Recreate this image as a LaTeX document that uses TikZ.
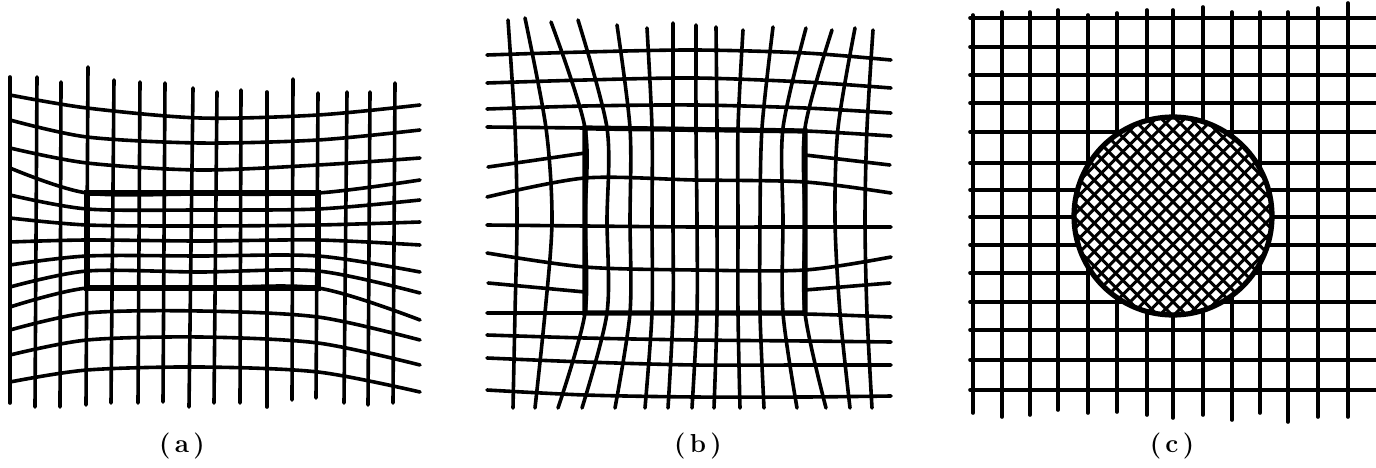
\documentclass[tikz,border=0pt]{standalone}
\usepackage{tikz}

\begin{document}
\begin{tikzpicture}[
    x=1pt, y=-1pt,
    gridline/.style={line width=3.6pt, line cap=round, line join=round},
    rectedge/.style={line width=5.2pt, line join=miter},
    hatchline/.style={line width=3pt},
    sublabel/.style={font=\fontsize{26}{28}\selectfont\bfseries}
  ]
  \useasboundingbox (0,0) rectangle (1376,468);

  % (a) region squeezed in y
  \foreach \xt/\yt/\xb/\yb in {10/77/10/403, 37/77/35/407, 61/82/60/407,
      88/67/86/405, 114/80/111/403, 140/82/138/403, 165/83/163/402,
      193/88/189/407, 217/92/214/403, 241/90/240/403, 267/92/267/407,
      293/79/292/400, 318/93/316/398, 347/92/344/403, 370/92/368/405,
      395/83/393/403}
    \draw[gridline] (\xt,\yt) -- (\xb,\yb);
  \foreach \a/\b/\c/\d/\e in {95/108/118/115/105, 120/137/143/140/130,
      148/163/170/165/158, 168/193/194/193/180, 195/209/210/209/200,
      218/225/226/225/222, 242/240/241/240/245, 265/256/256/256/272,
      287/271/272/271/293, 307/288/288/288/320, 330/313/311/317/340,
      355/340/337/343/365, 382/370/367/372/392}
    \draw[gridline] plot[smooth, tension=0.5]
      coordinates {(10,\a) (87,\b) (200,\c) (318,\d) (420,\e)};
  \draw[rectedge] (87,193) rectangle (318,288);

  % (b) region squeezed in x
  \foreach \xa/\ya/\xb/\xc/\xd/\xe in {508/20/515/517/515/513,
      525/18/546/552/545/535, 551/22/585/585/585/558,
      578/20/607/607/607/582, 617/25/630/630/630/615,
      647/28/652/652/652/645, 673/23/673/673/673/668,
      696/25/696/697/697/692, 716/27/717/717/717/714,
      743/30/738/738/738/740, 773/27/762/760/760/764,
      806/28/783/783/783/797, 832/30/805/805/805/826,
      855/28/838/835/840/850, 873/30/867/865/867/872}
    \draw[gridline] plot[smooth, tension=0.5]
      coordinates {(\xa,\ya) (\xb,128) (\xc,220) (\xd,313) (\xe,408)};
  \foreach \a/\b/\c/\d/\e in {55/52/50/53/60, 83/80/78/82/88,
      109/106/105/108/113, 127/128/129/131/136, 197/178/180/182/193,
      225/226/227/227/227, 253/267/270/270/257, 313/313/313/314/317,
      335/338/340/341/342, 358/362/365/365/365, 390/395/397/397/396}
    \draw[gridline] plot[smooth, tension=0.5]
      coordinates {(487,\a) (585,\b) (695,\c) (805,\d) (891,\e)};
  \draw[gridline] (488,167) -- (585,153);
  \draw[gridline] (805,155) -- (890,165);
  \draw[gridline] (488,283) -- (585,292);
  \draw[gridline] (805,290) -- (890,283);
  \draw[rectedge] (585,128) -- (805,131) -- (805,313) -- (585,313) -- cycle;

  % (c) hatched inclusion
  \foreach \x/\yt/\yb in {973/15/413, 1002/12/417, 1030/12/415,
      1058/10/410, 1088/15/413, 1117/13/412, 1147/10/415, 1173/10/418,
      1203/7/415, 1232/12/420, 1260/12/413, 1288/12/422, 1318/8/417,
      1348/3/417}
    \draw[gridline] (\x,\yt) -- (\x,\yb);
  \foreach \y in {18,47,75,103,132,163,190,217,245,273,302,330,360,390}
    \draw[gridline] (970,\y) -- (1376,\y);
  \fill[white] (1173,216) circle[radius=99pt];
  \begin{scope}
    \clip (1173,216) circle[radius=99pt];
    \foreach \k in {-10,...,10} {
      \draw[hatchline] ({1173+(\k)*14.3-110},106) -- ({1173+(\k)*14.3+110},326);
      \draw[hatchline] ({1173+(\k)*14.3+110},106) -- ({1173+(\k)*14.3-110},326);
    }
  \end{scope}
  \draw[rectedge] (1173,216) circle[radius=99pt];

  \node[sublabel] (capA) at (182,446) {(\,a\,)};
  \node[sublabel] (capB) at (698,446) {(\,b\,)};
  \node[sublabel] (capC) at (1172,446) {(\,c\,)};
\end{tikzpicture}
\end{document}
